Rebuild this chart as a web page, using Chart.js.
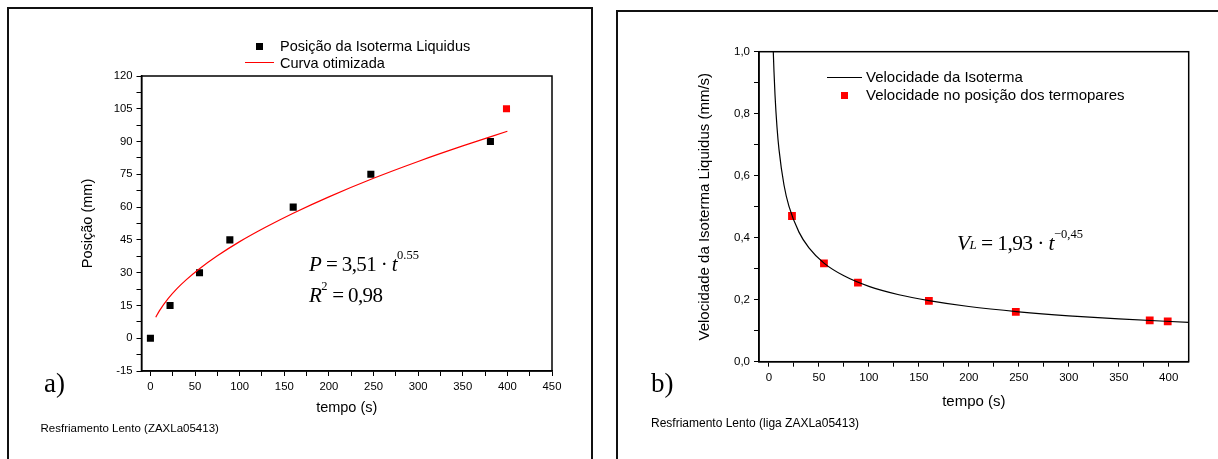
<!DOCTYPE html>
<html>
<head>
<meta charset="utf-8">
<script src="https://cdn.jsdelivr.net/npm/chart.js@4.4.1/dist/chart.umd.min.js"></script>
<style>
body{margin:0;background:#fff;width:1218px;height:459px;overflow:hidden;position:relative;font-family:"Liberation Sans",Arial,sans-serif;color:#000}
.panel{position:absolute;border:2px solid #111;border-bottom:none;box-sizing:border-box}
#pa{left:7px;top:7px;width:586px;height:470px}
#pb{left:616px;top:10px;width:640px;height:470px;border-right:none}
canvas{position:absolute;top:0}
.t{position:absolute;white-space:nowrap}
.lg{font-size:14.5px;line-height:17px}
.lgb{font-size:15px;line-height:18px}
.eq{position:absolute;white-space:nowrap;font-family:"Liberation Serif","Times New Roman",serif;font-style:italic;font-size:21px;line-height:24px;letter-spacing:-0.6px}
.eq .n{font-style:normal}
.eq sup{font-style:normal;font-size:12.5px;position:relative;top:-3px;vertical-align:top;line-height:13px;letter-spacing:0}
.eq sub{font-size:13px;position:relative;top:7px;vertical-align:top;line-height:13px}
.lab{position:absolute;font-family:"Liberation Serif","Times New Roman",serif;font-size:27px;line-height:28px}
.cap{position:absolute;white-space:nowrap;line-height:14px}
</style>
</head>
<body>
<div class="panel" id="pa"></div>
<div class="panel" id="pb"></div>

<canvas id="chartA" width="600" height="459" style="left:0"></canvas>
<canvas id="chartB" width="613" height="459" style="left:605px"></canvas>

<!-- legend a -->
<div class="t" style="left:255.5px;top:42.5px;width:7px;height:7px;background:#000"></div>
<div class="t lg" style="left:280px;top:37.5px">Posição da Isoterma Liquidus</div>
<div class="t" style="left:245px;top:62px;width:29px;height:1.2px;background:#f00"></div>
<div class="t lg" style="left:280px;top:54.5px">Curva otimizada</div>

<!-- legend b -->
<div class="t" style="left:827px;top:76.5px;width:35px;height:1.2px;background:#000"></div>
<div class="t lgb" style="left:866px;top:68px">Velocidade da Isoterma</div>
<div class="t" style="left:840.5px;top:91.5px;width:7.5px;height:7.5px;background:#f00"></div>
<div class="t lgb" style="left:866px;top:86px">Velocidade no posição dos termopares</div>

<div class="eq" style="left:309px;top:252px">P<span class="n"> = 3,51 · </span>t<sup>0.55</sup></div>
<div class="eq" style="left:309px;top:283px">R<sup>2</sup><span class="n"> = 0,98</span></div>
<div class="eq" style="left:957px;top:231px;font-size:21.5px">V<sub>L</sub><span class="n"> = 1,93 · </span>t<sup>−0,45</sup></div>

<div class="lab" style="left:44px;top:369px">a)</div>
<div class="lab" style="left:651px;top:369px">b)</div>
<div class="cap" style="left:40.5px;top:421px;font-size:11.5px">Resfriamento Lento (ZAXLa05413)</div>
<div class="cap" style="left:651px;top:416px;font-size:12px">Resfriamento Lento (liga ZAXLa05413)</div>

<script>
const SANS = "'Liberation Sans', Arial, sans-serif";

// panel a: isotherm position
const aTime = [0, 22, 55, 89, 160, 247, 381];
const aPos = [0, 15, 30, 45, 60, 75, 90];
const aLastTime = [399];
const aLastPos = [105];
const aFitTime = [6, 10, 20, 30, 40, 55, 75, 100, 130, 160, 200, 250, 300, 350, 400];
const aFitPos = [9.6, 12.5, 18.2, 22.8, 26.7, 31.8, 37.7, 44.2, 51.0, 57.2, 64.7, 73.2, 80.9, 88.0, 94.7];
const aXTicks = [0, 25, 50, 75, 100, 125, 150, 175, 200, 225, 250, 275, 300, 325, 350, 375, 400, 425, 450];
const aXLabels = [0, 50, 100, 150, 200, 250, 300, 350, 400, 450];
const aYTicks = [-15, -7.5, 0, 7.5, 15, 22.5, 30, 37.5, 45, 52.5, 60, 67.5, 75, 82.5, 90, 97.5, 105, 112.5, 120];
const aYLabels = [-15, 0, 15, 30, 45, 60, 75, 90, 105, 120];

// panel b: isotherm velocity
const bTime = [23, 55, 89, 160, 247, 381, 399];
const bVel = [0.47, 0.317, 0.255, 0.196, 0.161, 0.133, 0.130];
const bFitTime = [4.3, 5, 6, 8, 10, 15, 20, 30, 40, 55, 75, 100, 130, 160, 200, 250, 300, 350, 420];
const bFitVel = [1.0, 0.936, 0.862, 0.757, 0.685, 0.570, 0.501, 0.418, 0.367, 0.318, 0.277, 0.243, 0.216, 0.197, 0.178, 0.161, 0.148, 0.138, 0.127];
const bXTicks = [0, 25, 50, 75, 100, 125, 150, 175, 200, 225, 250, 275, 300, 325, 350, 375, 400];
const bXLabels = [0, 50, 100, 150, 200, 250, 300, 350, 400];
const bYTicks = [0, 0.1, 0.2, 0.3, 0.4, 0.5, 0.6, 0.7, 0.8, 0.9, 1.0];
const bYLabels = [0, 0.2, 0.4, 0.6, 0.8, 1.0];

function pts(xs, ys){ return xs.map((x, i) => ({x, y: ys[i]})); }

// full box round the plot area
const frame = {
  id: "frame",
  afterDraw(chart){
    const {ctx, chartArea: a} = chart;
    ctx.save();
    ctx.strokeStyle = "#000";
    ctx.lineWidth = 1.5;
    ctx.strokeRect(a.left, a.top, a.right - a.left, a.bottom - a.top);
    ctx.restore();
  }
};

function axis(o){
  return {
    type: "linear",
    min: o.min, max: o.max,
    afterBuildTicks: s => { s.ticks = o.ticks.map(v => ({value: v})); },
    afterFit: s => { if(o.w) s.width = o.w; if(o.h) s.height = o.h; },
    ticks: {
      autoSkip: false, maxRotation: 0, padding: 4, color: "#000",
      font: {family: SANS, size: o.tickSize},
      callback: v => o.labels.includes(v) ? o.fmt(v) : ""
    },
    grid: {drawOnChartArea: false, drawTicks: true, tickLength: 5, color: "#000", lineWidth: 1},
    border: {color: "#000", width: 1.5},
    title: {display: true, text: o.title, color: "#000", font: {family: SANS, size: o.titleSize}, padding: {top: 4, bottom: 4}}
  };
}

const base = {
  responsive: false,
  animation: false,
  plugins: {legend: {display: false}, tooltip: {enabled: false}}
};

new Chart(document.getElementById("chartA"), {
  type: "scatter",
  data: {
    datasets: [
      {data: pts(aFitTime, aFitPos), showLine: true, borderColor: "#ff0000", borderWidth: 1.2,
       pointRadius: 0, cubicInterpolationMode: "monotone", fill: false},
      {data: pts(aTime, aPos), pointStyle: "rect", pointRadius: 5, backgroundColor: "#000", borderWidth: 0},
      {data: pts(aLastTime, aLastPos), pointStyle: "rect", pointRadius: 5, backgroundColor: "#ff0000", borderWidth: 0}
    ]
  },
  options: Object.assign({}, base, {
    layout: {padding: {left: 75.3, top: 76, right: 48, bottom: 38.3}},
    scales: {
      x: axis({min: -10, max: 450, ticks: aXTicks, labels: aXLabels, fmt: v => String(v),
               title: "tempo (s)", h: 49.7, tickSize: 11.3, titleSize: 14.5}),
      y: axis({min: -15, max: 120, ticks: aYTicks, labels: aYLabels, fmt: v => String(v),
               title: "Posição (mm)", w: 66.2, tickSize: 11.3, titleSize: 14.5})
    }
  }),
  plugins: [frame]
});

new Chart(document.getElementById("chartB"), {
  type: "scatter",
  data: {
    datasets: [
      {data: pts(bFitTime, bFitVel), showLine: true, borderColor: "#000", borderWidth: 1.2,
       pointRadius: 0, cubicInterpolationMode: "monotone", fill: false},
      {data: pts(bTime, bVel), pointStyle: "rect", pointRadius: 5.5, backgroundColor: "#ff0000", borderWidth: 0}
    ]
  },
  options: Object.assign({}, base, {
    layout: {padding: {left: 87, top: 51.7, right: 29.3, bottom: 44}},
    scales: {
      x: axis({min: -10, max: 420, ticks: bXTicks, labels: bXLabels, fmt: v => String(v),
               title: "tempo (s)", h: 53.3, tickSize: 11.5, titleSize: 15}),
      y: axis({min: 0, max: 1, ticks: bYTicks, labels: bYLabels, fmt: v => v.toFixed(1).replace(".", ","),
               title: "Velocidade da Isoterma Liquidus (mm/s)", w: 67, tickSize: 11.5, titleSize: 15})
    }
  }),
  plugins: [frame]
});
</script>
</body>
</html>
